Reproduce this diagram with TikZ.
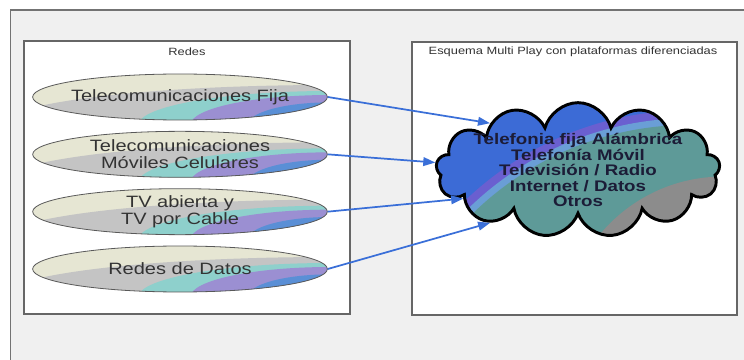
\documentclass[tikz,border=0pt]{standalone}
\usepackage{fontspec}
\setmainfont[FakeStretch=1.22]{Liberation Sans}
\usepackage{tikz}
\usetikzlibrary{arrows.meta,positioning,shapes.geometric,shapes.symbols}
\usepackage{xcolor}
\definecolor{bgray}{HTML}{F0F0F0}
\definecolor{ecream}{HTML}{E6E6D3}
\definecolor{egray}{HTML}{C4C4C4}
\definecolor{eteal}{HTML}{8ED0CC}
\definecolor{epurple}{HTML}{9B8FD2}
\definecolor{eblue}{HTML}{5A8FD6}
\definecolor{cblue}{HTML}{3C6BD6}
\definecolor{cpurple}{HTML}{6A5FD0}
\definecolor{clight}{HTML}{6A9ED6}
\definecolor{cteal}{HTML}{5E9A98}
\definecolor{cgray}{HTML}{8C8C8C}
\definecolor{ctext}{HTML}{1C1C37}
\definecolor{arrb}{HTML}{3A6FD8}

\begin{document}
\begin{tikzpicture}[x=0.75pt, y=-0.75pt, node distance=7.9pt,
  box/.style={draw=black!60, line width=1.2pt, fill=white, minimum width=244.5pt, minimum height=204.75pt},
  ttl/.style={font=\fontsize{7.9}{9}\selectfont, text=black!80, inner sep=0pt},
  net/.style={ellipse, draw=black!65, semithick, minimum width=221pt, minimum height=34.5pt, inner xsep=-25pt, inner ysep=-5pt,
    align=center, text=black!80, font=\fontsize{12.3}{13}\selectfont,
    path picture={
      \fill[ecream] (path picture bounding box.south west) rectangle (path picture bounding box.north east);
      \fill[egray] ([xshift=2.25pt,yshift=-3.75pt]path picture bounding box.south east) ellipse [x radius=247.5pt, y radius=30pt];
      \fill[eteal] ([xshift=2.25pt,yshift=-3.75pt]path picture bounding box.south east) ellipse [x radius=144pt, y radius=25.5pt];
      \fill[epurple] ([xshift=2.25pt,yshift=-3.75pt]path picture bounding box.south east) ellipse [x radius=105pt, y radius=22.5pt];
      \fill[eblue] ([xshift=2.25pt,yshift=-3.75pt]path picture bounding box.south east) ellipse [x radius=62pt, y radius=17pt];
    }},
  cld/.style={cloud, cloud puffs=13, cloud ignores aspect, draw=black, line width=2.2pt, minimum width=213pt, minimum height=101pt,
    inner xsep=-12pt, inner ysep=-12pt, align=center, text=ctext, font=\bfseries\fontsize{11.5}{11.6}\selectfont,
    path picture={
      \fill[cblue] (path picture bounding box.south west) rectangle (path picture bounding box.north east);
      \fill[cpurple] ([xshift=84pt,yshift=-199.5pt]path picture bounding box.center) circle [radius=244pt];
      \fill[clight] ([xshift=84pt,yshift=-199.5pt]path picture bounding box.center) circle [radius=238pt];
      \fill[cteal] ([xshift=84pt,yshift=-199.5pt]path picture bounding box.center) circle [radius=233pt];
      \fill[cgray] ([xshift=108.75pt,yshift=-125.25pt]path picture bounding box.center) circle [radius=120pt];
    }},
  arr/.style={-{Triangle[length=9pt,width=6.5pt]}, line width=1.3pt, draw=arrb, fill=arrb}]
  \useasboundingbox (0,0) rectangle (744,360);
  \draw[draw=black!55, line width=1.1pt, fill=bgray] (10.5,10) rectangle (800,400);
  % Redes
  \node[box] (redes) at (187,177.5) {};
  \node[ttl] (tr) at (187,52) {Redes};
  \node[net] (fija) at (180,97) {Telecomunicaciones Fija};
  \node[net, below=of fija] (movil) {Telecomunicaciones\\ Móviles Celulares};
  \node[net, below=of movil] (tv) {TV abierta y\\ TV por Cable};
  \node[net, below=of tv] (datos) {Redes de Datos};
  % Multi Play
  \node[box, minimum width=243.75pt] (mp) at (574.5,178.5) {};
  \node[ttl] (tm) at (573,52) {Esquema Multi Play con plataformas diferenciadas};
  \node[cld] (nube) at (578,170) {Telefonia fija Alámbrica\\ Telefonía Móvil\\ Televisión / Radio\\ Internet / Datos\\ Otros};
  \draw[arr] (fija.east) -- (nube.152);
  \draw[arr] (movil.east) -- (nube.177);
  \draw[arr] (tv.east) -- (nube.194);
  \draw[arr] (datos.east) -- (nube.211);
\end{tikzpicture}
\end{document}
